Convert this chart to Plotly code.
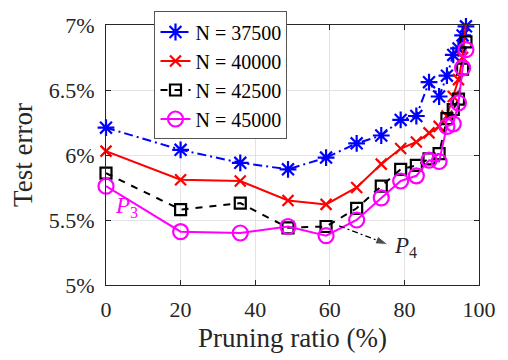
import plotly.graph_objects as go

# Pruning ratios (%) at each pruning round
pruning_ratio = [0, 20, 36, 48.8, 59.0, 67.2, 73.8, 79.0, 83.2, 86.6,
                 89.3, 91.4, 93.1, 94.5, 95.6, 96.5]

# Test error (%) for each training-set size N
err_37500 = [6.21, 6.04, 5.94, 5.89, 5.98, 6.09, 6.15, 6.27, 6.30, 6.56,
             6.45, 6.61, 6.77, 6.82, 6.92, 6.99]
err_40000 = [6.03, 5.81, 5.80, 5.65, 5.62, 5.75, 5.93, 6.05, 6.10, 6.17,
             6.22, 6.30, 6.45, 6.58, 6.75, 7.02]
err_42500 = [5.86, 5.58, 5.63, 5.44, 5.45, 5.59, 5.76, 5.89, 5.92, 5.97,
             6.01, 6.28, 6.35, 6.43, 6.66, 6.87]
err_45000 = [5.76, 5.41, 5.40, 5.45, 5.38, 5.50, 5.67, 5.80, 5.84, 5.96,
             5.95, 6.22, 6.24, 6.40, 6.67, 6.81]

series_names = ["N = 37500", "N = 40000", "N = 42500", "N = 45000"]

y_ticks = [5, 5.5, 6, 6.5, 7]
y_tick_text = ["5%", "5.5%", "6%", "6.5%", "7%"]
x_ticks = [0, 20, 40, 60, 80, 100]

FONT = "Liberation Serif, Times New Roman, serif"
TEXT = "#262626"

fig = go.Figure()

styles = [
    dict(color="#0000ff", dash="9px,4px,2px,4px", symbol="asterisk-open", size=14),
    dict(color="#ff0000", dash="solid", symbol="x-thin-open", size=11),
    dict(color="#000000", dash="7px,7px", symbol="square-open", size=11),
    dict(color="#ff00ff", dash="solid", symbol="circle-open", size=15),
]

for name, ys, st in zip(series_names, [err_37500, err_40000, err_42500, err_45000], styles):
    fig.add_trace(go.Scatter(
        x=pruning_ratio, y=ys, name=name, mode="lines+markers",
        line=dict(color=st["color"], width=2, dash=st["dash"]),
        marker=dict(symbol=st["symbol"], size=st["size"],
                    line=dict(color=st["color"], width=2.2)),
        cliponaxis=False,
    ))

# Dash-dot pointer toward P4, ending in an arrowhead
fig.add_trace(go.Scatter(
    x=[62.5, 75.6], y=[5.455, 5.312], mode="lines+markers", showlegend=False,
    line=dict(color="black", width=1.3, dash="6px,3px,2px,3px"),
    marker=dict(symbol="arrow", size=[0, 13], angleref="previous", color="black",
                standoff=0),
    hoverinfo="skip",
))
fig.add_annotation(
    x=76.8, y=5.29, xref="x", yref="y", xanchor="left", yanchor="middle",
    text="<i>P</i><sub>4</sub>", showarrow=False,
    font=dict(family=FONT, size=23, color=TEXT),
)
fig.add_annotation(
    x=2.0, y=5.6, xref="x", yref="y", xanchor="left", yanchor="middle",
    text="<i>P</i><sub>3</sub>", showarrow=False,
    font=dict(family=FONT, size=23, color="#ff00ff"),
)

axis_common = dict(
    showline=True, linecolor=TEXT, linewidth=1, mirror="ticks",
    ticks="inside", ticklen=5, tickcolor=TEXT,
    showgrid=True, gridcolor="#e3e3e3", gridwidth=1, zeroline=False,
    tickfont=dict(family=FONT, size=22, color=TEXT),
)

fig.update_xaxes(
    range=[0, 100], tickvals=x_ticks, ticklabelstandoff=5,
    title=dict(text="Pruning ratio (%)", font=dict(family=FONT, size=27, color=TEXT),
               standoff=6),
    **axis_common,
)
fig.update_yaxes(
    range=[5, 7], tickvals=y_ticks, ticktext=y_tick_text, ticklabelstandoff=6,
    title=dict(text="Test error", font=dict(family=FONT, size=27, color=TEXT),
               standoff=8),
    **axis_common,
)

fig.update_layout(
    width=508, height=360,
    margin=dict(l=106, r=25, t=12, b=75),
    paper_bgcolor="white", plot_bgcolor="white",
    font=dict(family=FONT, size=22, color=TEXT),
    legend=dict(
        x=0.13, y=1.052, xanchor="left", yanchor="top",
        bgcolor="white", bordercolor="#555555", borderwidth=1,
        font=dict(family=FONT, size=20, color="#000000"),
        tracegroupgap=0, itemwidth=30,
    ),
    showlegend=True,
)

fig.write_html("out.html")
